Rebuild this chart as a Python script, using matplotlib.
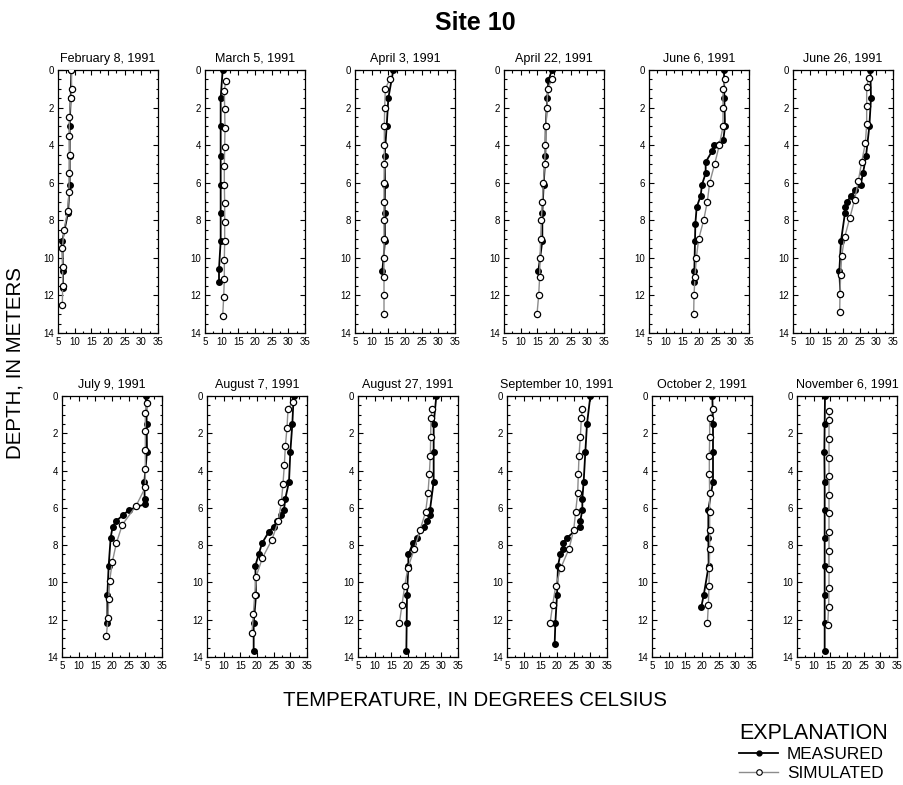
import numpy as np
import matplotlib
matplotlib.use("Agg")
import matplotlib.pyplot as plt
from matplotlib.ticker import MultipleLocator
from matplotlib.lines import Line2D

plt.rcParams['font.family'] = ['Liberation Sans', 'DejaVu Sans']

# panel titles
dates = ["February 8, 1991", "March 5, 1991", "April 3, 1991", "April 22, 1991",
         "June 6, 1991", "June 26, 1991", "July 9, 1991", "August 7, 1991",
         "August 27, 1991", "September 10, 1991", "October 2, 1991", "November 6, 1991"]

# measured profiles: depth (m) and temperature (deg C)
meas_depth = [
    [0, 1.5, 3.0, 4.6, 6.1, 7.6, 9.1, 10.7, 11.6],
    [0, 1.5, 3.0, 4.6, 6.1, 7.6, 9.1, 10.6, 11.3],
    [0, 1.5, 3.0, 4.6, 6.1, 7.6, 9.1, 10.7],
    [0, 0.55, 1.5, 3.0, 4.6, 6.1, 7.6, 9.1, 10.7],
    [0, 1.5, 3.0, 3.7, 4.0, 4.3, 4.9, 5.5, 6.1, 6.7, 7.3, 8.2, 9.1, 10.7, 11.3],
    [0, 1.5, 3.0, 4.6, 5.5, 6.1, 6.4, 6.7, 7.0, 7.3, 7.6, 9.1, 10.7, 11.9],
    [0, 1.5, 3.0, 4.6, 5.5, 5.8, 6.1, 6.4, 6.7, 7.0, 7.6, 9.1, 10.7, 12.2],
    [0, 1.5, 3.0, 4.6, 5.5, 6.1, 6.4, 6.7, 7.0, 7.3, 7.9, 8.5, 9.1, 10.7, 12.2, 13.7],
    [0, 1.5, 3.0, 4.6, 6.1, 6.4, 6.7, 7.0, 7.6, 7.9, 8.5, 9.1, 10.7, 12.2, 13.7],
    [0, 1.5, 3.0, 4.6, 5.5, 6.1, 6.7, 7.0, 7.6, 7.9, 8.2, 8.5, 9.1, 10.7, 12.2, 13.3],
    [0, 1.5, 3.0, 4.6, 6.1, 7.6, 9.1, 10.7, 11.3],
    [0, 1.5, 3.0, 4.6, 6.1, 7.6, 9.1, 10.7, 12.2, 13.7],
]
meas_temp = [
    [9.0, 8.8, 8.5, 8.5, 8.5, 8.0, 6.3, 6.5, 6.5],
    [10.3, 9.7, 9.7, 9.7, 9.7, 9.7, 9.7, 9.2, 9.2],
    [16.5, 15.0, 14.5, 13.9, 14.0, 13.9, 14.0, 13.2],
    [19.4, 18.3, 18.0, 17.5, 17.4, 16.9, 16.5, 16.5, 15.3],
    [27.5, 27.6, 27.8, 27.3, 24.6, 24.0, 22.0, 22.0, 20.9, 20.5, 19.3, 18.9, 18.8, 18.6, 18.6],
    [28.2, 28.4, 27.9, 26.9, 26.0, 25.3, 23.5, 22.5, 21.2, 20.6, 20.6, 19.4, 18.9, 19.2],
    [30.3, 30.4, 30.5, 29.7, 29.8, 29.8, 25.2, 23.2, 21.3, 20.2, 19.6, 19.0, 18.6, 18.6],
    [31.0, 30.6, 30.0, 29.6, 28.5, 28.1, 27.1, 26.1, 25.0, 23.5, 21.5, 20.5, 19.5, 19.7, 19.0, 19.0],
    [28.5, 27.7, 27.7, 27.7, 26.6, 26.6, 25.7, 24.8, 22.6, 21.5, 20.1, 20.1, 19.7, 19.6, 19.5],
    [30.0, 29.0, 28.5, 28.0, 27.6, 27.6, 27.0, 27.0, 23.0, 21.8, 21.8, 21.0, 20.3, 20.0, 19.5, 19.3],
    [23.1, 23.3, 23.3, 23.3, 21.9, 21.9, 22.0, 20.5, 19.8],
    [13.4, 13.3, 13.2, 13.3, 13.3, 13.3, 13.3, 13.3, 13.3, 13.3],
]

# simulated profiles
sim_depth = [
    [0, 1.0, 1.5, 2.5, 3.5, 4.5, 5.5, 6.5, 7.5, 8.5, 9.5, 10.5, 11.5, 12.5],
    [0.6, 1.1, 2.1, 3.1, 4.1, 5.1, 6.1, 7.1, 8.1, 9.1, 10.1, 11.1, 12.1, 13.1],
    [0.5, 1, 2, 3, 4, 5, 6, 7, 8, 9, 10, 11, 12, 13],
    [0.5, 1, 2, 3, 4, 5, 6, 7, 8, 9, 10, 11, 12, 13],
    [0.5, 1, 2, 3, 4, 5, 6, 7, 8, 9, 10, 11, 12, 13],
    [0.4, 0.9, 1.9, 2.9, 3.9, 4.9, 5.9, 6.9, 7.9, 8.9, 9.9, 10.9, 11.9, 12.9],
    [0.4, 0.9, 1.9, 2.9, 3.9, 4.9, 5.9, 6.9, 7.9, 8.9, 9.9, 10.9, 11.9, 12.9],
    [0.3, 0.7, 1.7, 2.7, 3.7, 4.7, 5.7, 6.7, 7.7, 8.7, 9.7, 10.7, 11.7, 12.7],
    [0.7, 1.2, 2.2, 3.2, 4.2, 5.2, 6.2, 7.2, 8.2, 9.2, 10.2, 11.2, 12.2],
    [0.7, 1.2, 2.2, 3.2, 4.2, 5.2, 6.2, 7.2, 8.2, 9.2, 10.2, 11.2, 12.2],
    [0.7, 1.2, 2.2, 3.2, 4.2, 5.2, 6.2, 7.2, 8.2, 9.2, 10.2, 11.2, 12.2],
    [0.8, 1.3, 2.3, 3.3, 4.3, 5.3, 6.3, 7.3, 8.3, 9.3, 10.3, 11.3, 12.3],
]
sim_temp = [
    [9.0, 9.1, 8.9, 8.4, 8.4, 8.5, 8.4, 8.3, 7.9, 6.8, 6.3, 6.4, 6.4, 6.3],
    [11.2, 10.8, 10.9, 11.0, 10.9, 10.8, 10.8, 10.9, 10.9, 10.9, 10.8, 10.8, 10.6, 10.3],
    [15.4, 14.1, 13.9, 13.8, 13.8, 13.8, 13.7, 13.7, 13.7, 13.7, 13.7, 13.7, 13.7, 13.7],
    [19.3, 18.1, 17.9, 17.6, 17.4, 17.2, 16.8, 16.5, 16.2, 16.0, 15.8, 15.7, 15.4, 14.9],
    [27.8, 27.2, 27.2, 27.2, 26.1, 24.7, 23.2, 22.5, 21.4, 19.9, 19.2, 18.8, 18.5, 18.4],
    [27.7, 27.1, 27.1, 27.1, 26.7, 25.6, 24.6, 23.5, 22.0, 20.5, 19.6, 19.3, 19.1, 19.0],
    [30.6, 30.0, 30.0, 30.0, 30.0, 30.0, 27.2, 23.1, 21.3, 20.1, 19.3, 19.0, 18.8, 18.3],
    [30.7, 29.3, 29.0, 28.5, 28.2, 27.8, 27.3, 26.4, 24.5, 21.6, 19.7, 19.3, 18.9, 18.5],
    [27.2, 26.9, 26.8, 26.7, 26.4, 26.0, 25.3, 23.6, 21.9, 20.0, 19.0, 18.2, 17.4],
    [27.6, 27.3, 27.0, 26.6, 26.4, 26.2, 25.6, 25.0, 23.6, 21.2, 19.6, 18.7, 17.9],
    [23.4, 22.3, 22.3, 22.2, 22.2, 22.3, 22.3, 22.3, 22.3, 22.2, 22.1, 21.9, 21.6],
    [14.7, 14.6, 14.6, 14.6, 14.6, 14.6, 14.6, 14.6, 14.6, 14.6, 14.6, 14.5, 14.2],
]

W, H = 904, 785
fig = plt.figure(figsize=(W / 100, H / 100), dpi=100)

# panel placement in pixels (left edges, top edge, height) per row
lefts_top = [58, 205, 355, 504, 649, 793]
lefts_bot = [62, 207, 358, 507, 652, 797]


def px_axes(left, top, w, h):
    return fig.add_axes([left / W, 1 - (top + h) / H, w / W, h / H])


for i in range(12):
    if i < 6:
        ax = px_axes(lefts_top[i], 70, 100, 263)
    else:
        ax = px_axes(lefts_bot[i - 6], 396, 100, 261)

    ax.plot(meas_temp[i], meas_depth[i], color='black', lw=1.3, marker='o',
            ms=4, mfc='black', mec='black', zorder=3)
    ax.plot(sim_temp[i], sim_depth[i], color='#8c8c8c', lw=1.0, marker='o',
            ms=4.5, mfc='white', mec='black', mew=0.9, zorder=4)

    ax.set_xlim(5, 35)
    ax.set_ylim(14, 0)
    ax.xaxis.set_major_locator(MultipleLocator(5))
    ax.xaxis.set_minor_locator(MultipleLocator(2.5))
    ax.yaxis.set_major_locator(MultipleLocator(2))
    ax.yaxis.set_minor_locator(MultipleLocator(0.5))
    ax.tick_params(which='both', direction='in', top=True, right=True,
                   labelsize=7, pad=3, width=0.8)
    ax.tick_params(which='major', length=3.5)
    ax.tick_params(which='minor', length=1.8)
    for s in ax.spines.values():
        s.set_linewidth(0.9)
    ax.set_title(dates[i], fontsize=9, pad=6)

fig.text(475 / W, 1 - 23 / H, "Site 10", ha='center', va='center',
         fontsize=18, fontweight='bold')
fig.text(475 / W, 1 - 700 / H, "TEMPERATURE, IN DEGREES CELSIUS",
         ha='center', va='center', fontsize=14.8)
fig.text(15 / W, 1 - 363 / H, "DEPTH, IN METERS", ha='center', va='center',
         rotation=90, fontsize=14.8)

h_meas = Line2D([], [], color='black', lw=1.3, marker='o', ms=3.5, mfc='black', mec='black')
h_sim = Line2D([], [], color='#8c8c8c', lw=1.0, marker='o', ms=4, mfc='white', mec='black', mew=0.8)
leg = fig.legend([h_meas, h_sim], ["MEASURED", "SIMULATED"], title="EXPLANATION",
                 loc='upper left', bbox_to_anchor=(727 / W, 1 - 711 / H),
                 frameon=False, fontsize=12.3, title_fontsize=15.5,
                 handlelength=2.3, handletextpad=0.5, labelspacing=0.2,
                 alignment='left', borderpad=0.2)

fig.savefig("out.png", dpi=100)
